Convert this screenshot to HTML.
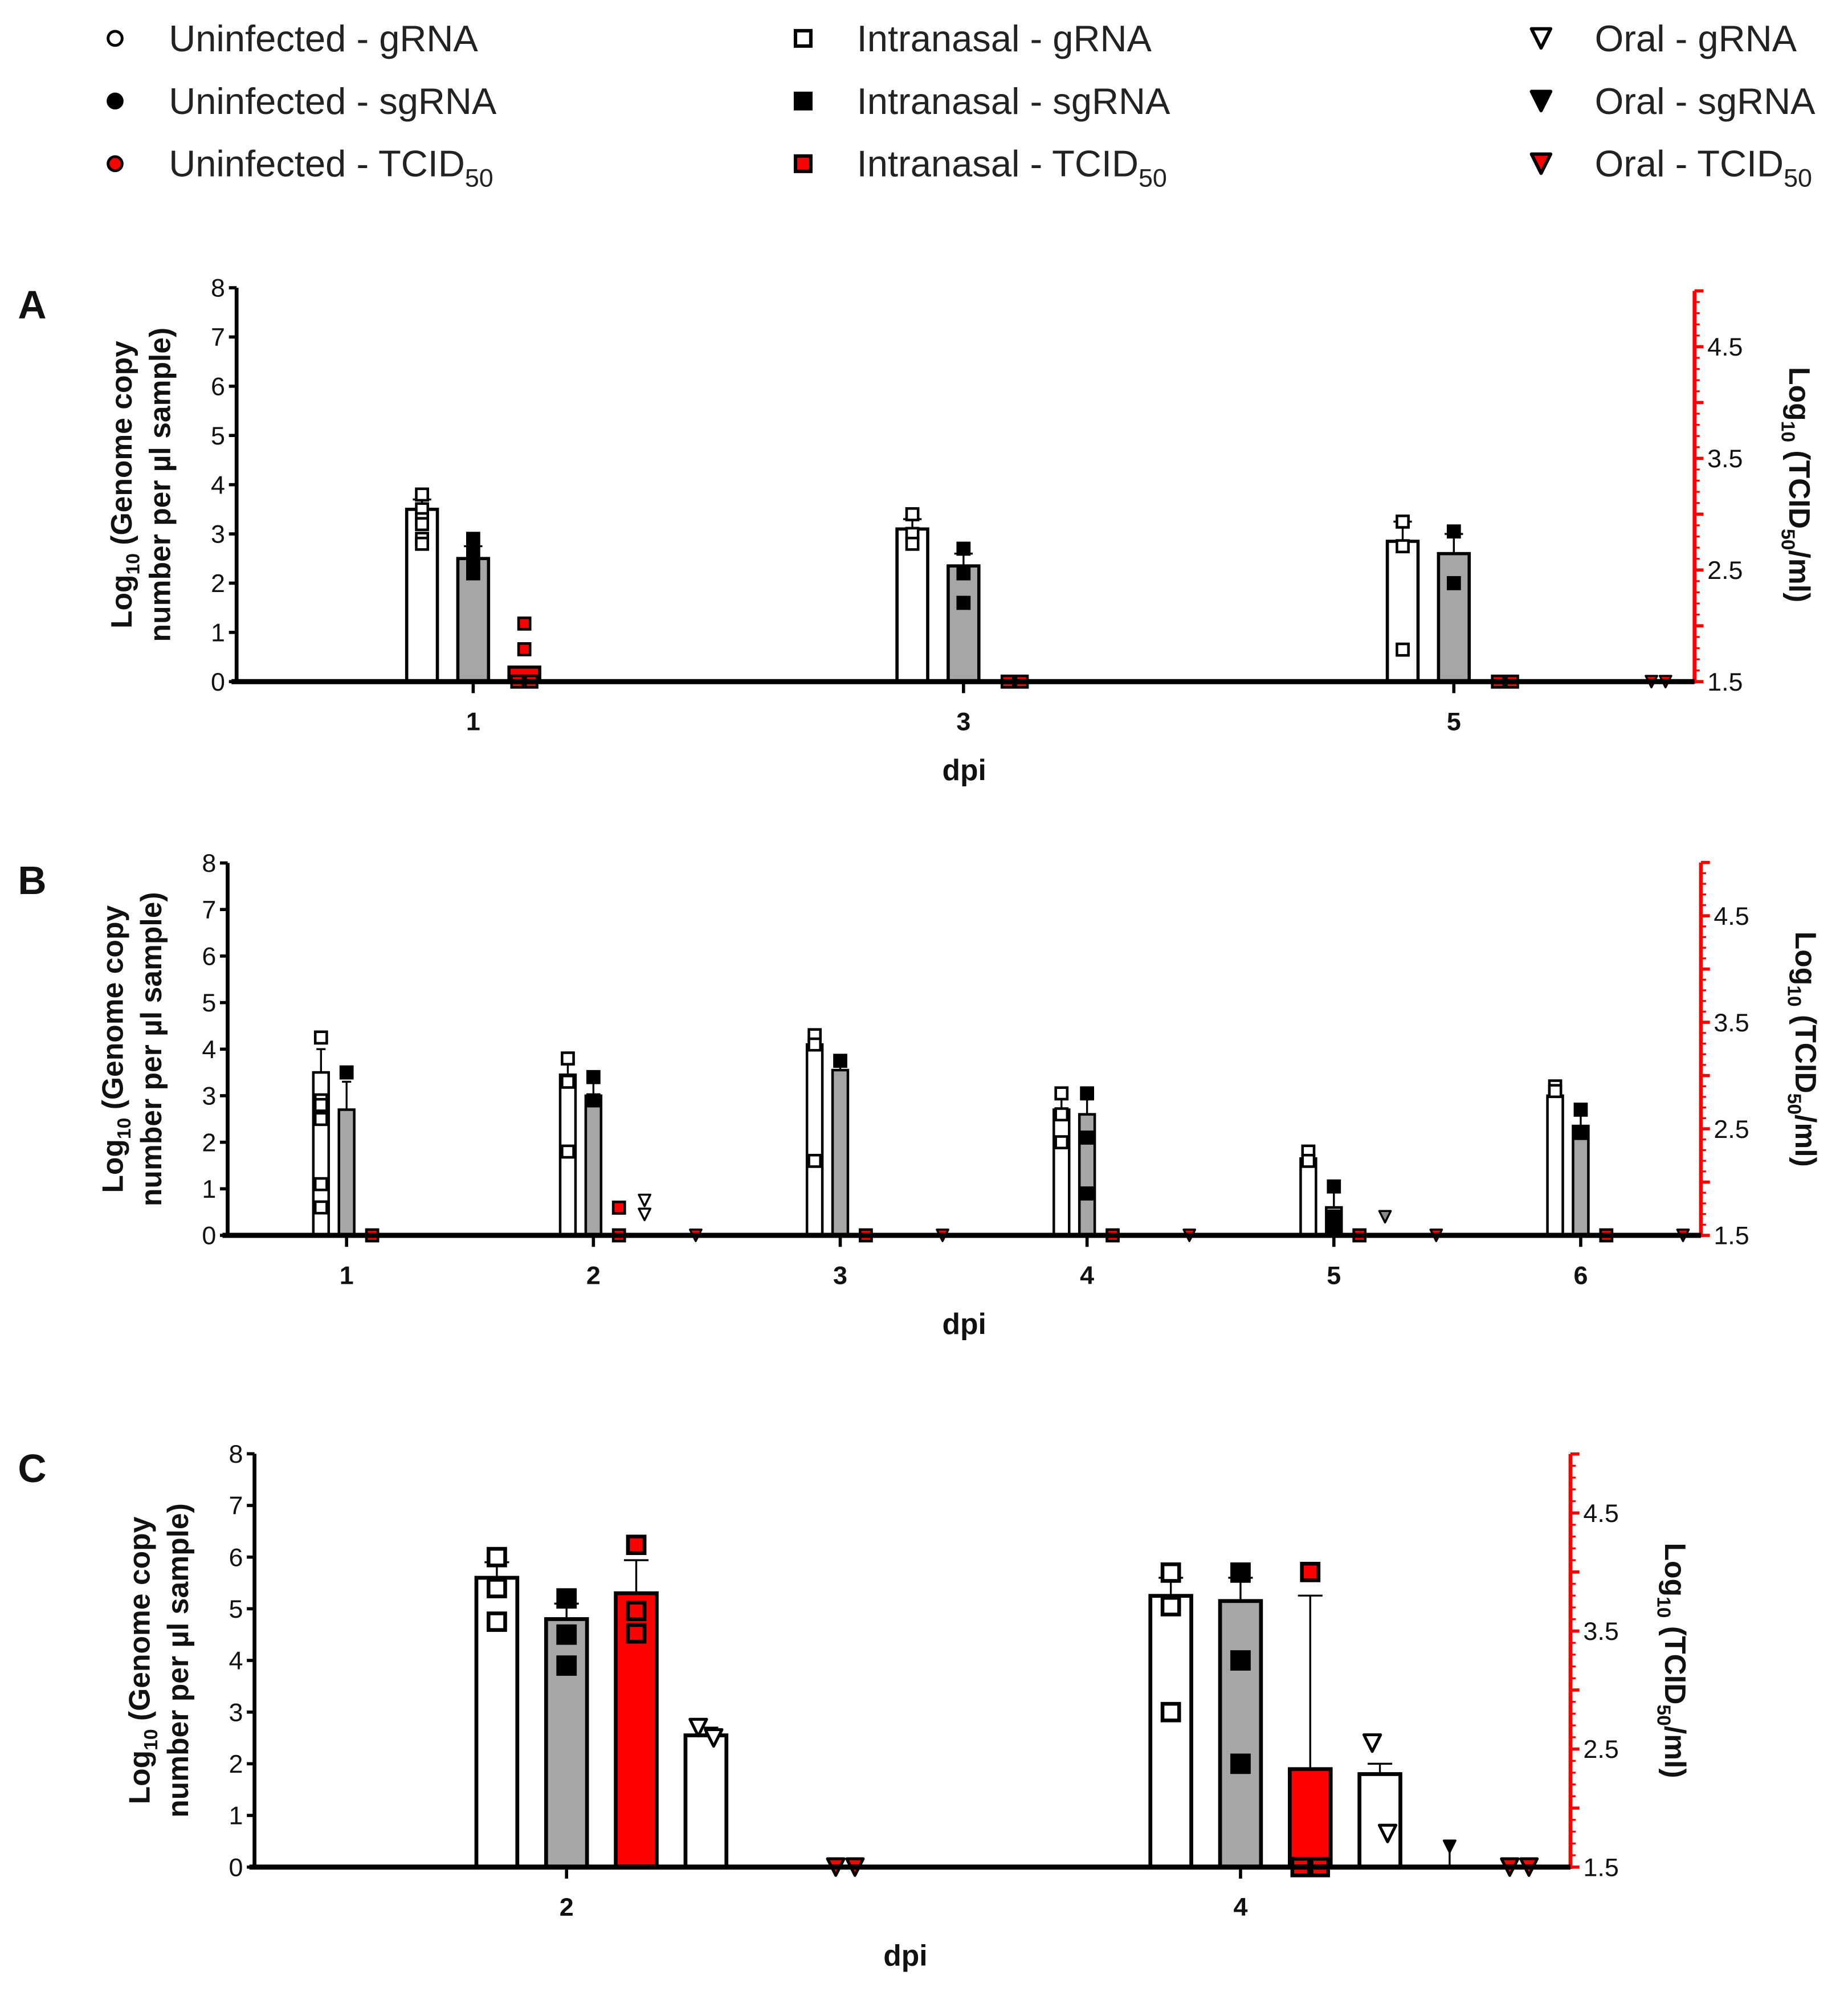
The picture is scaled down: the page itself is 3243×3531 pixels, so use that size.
<!DOCTYPE html>
<html><head><meta charset="utf-8">
<style>
html,body{margin:0;padding:0;background:#fff;}
svg{display:block;}
text{font-family:"Liberation Sans",Arial,sans-serif;}
</style></head>
<body>
<svg id="fig" xmlns="http://www.w3.org/2000/svg" width="3243" height="3531" viewBox="0 0 1445 1573.3">
<g id="legend"></g>
<g id="pA"></g>
<g id="pB"></g>
<g id="pC"></g>
</svg>
<script>
// ---------- DATA ----------
// Panel A
const daysA = [1, 3, 5];
const gMeanA = [3.5, 3.1, 2.85];
const gErrA = [3.7, 3.3, 3.25];
const gPtsA = [[3.8, 3.5, 3.3, 3.2, 2.9, 2.8], [3.4, 3.0, 2.8], [3.25, 2.75, 0.65]];
const sMeanA = [2.5, 2.35, 2.6];
const sErrA = [2.75, 2.6, 3.0];
const sPtsA = [[2.9, 2.6, 2.4, 2.2], [2.7, 2.2, 1.6], [3.05, 2.0]];
const tMeanA = [1.63, 1.5, 1.5];           // right axis units
const tPtsA = [[2.02, 1.79, 1.5, 1.5], [1.5, 1.5], [1.5, 1.5]];
const oTPtsA = [[], [], [1.5, 1.5]];
// Panel B
const daysB = [1, 2, 3, 4, 5, 6];
const gMeanB = [3.5, 3.45, 4.1, 2.7, 1.65, 3.0];
const gErrB = [4.0, 3.7, 4.3, 3.0, 1.85, 3.2];
const gPtsB = [[4.25, 2.9, 2.8, 2.5, 1.1, 0.6], [3.8, 3.3, 1.8], [4.3, 4.1, 1.6], [3.05, 2.6, 2.0], [1.8, 1.6], [3.2, 3.1]];
const sMeanB = [2.7, 3.0, 3.55, 2.6, 0.6, 2.35];
const sErrB = [3.3, 3.3, 3.7, 3.0, 0.95, 2.65];
const sPtsB = [[3.5], [3.4, 2.9], [3.75], [3.05, 2.1, 0.9], [1.05, 0.4, 0.2], [2.7, 2.2]];
const tPtsB = [[1.5], [1.5, 1.76], [1.5], [1.5], [1.5], [1.5]];
const oGPtsB = [[], [0.75, 0.45], [], [], [0.4], []];
const oTPtsB = [[], [1.5], [1.5], [1.5], [1.5], [1.5]];
// Panel C
const daysC = [2, 4];
const gMeanC = [5.6, 5.25];
const gErrC = [5.9, 5.6];
const gPtsC = [[6.0, 5.4, 4.75], [5.7, 5.05, 3.0]];
const sMeanC = [4.8, 5.15];
const sErrC = [5.1, 5.6];
const sPtsC = [[5.2, 4.5, 3.9], [5.7, 4.0, 2.0]];
const tMeanC = [3.82, 2.33];
const tErrC = [4.1, 3.8];
const tPtsC = [[4.23, 3.67, 3.48], [4.0, 1.5, 1.5]];
const oGMeanC = [2.55, 1.8];
const oGErrC = [2.7, 2.0];
const oGPtsC = [[2.7, 2.5], [2.4, 0.65]];
const oSPtsC = [[], [0.4]];
const oTPtsC = [[1.5, 1.5], [1.5, 1.5]];
const leftTicks = [0,1,2,3,4,5,6,7,8];
const rightTicks = [1.5, 2.5, 3.5, 4.5];

// ---------- HELPERS ----------
const NS = "http://www.w3.org/2000/svg";
function mk(parent, tag, attrs, txt) {
  const e = document.createElementNS(NS, tag);
  for (const k in attrs) e.setAttribute(k, attrs[k]);
  if (txt !== undefined) e.textContent = txt;
  parent.appendChild(e);
  return e;
}
function marker(g, type, x, y, r, name) {
  let e;
  if (type === 'sqOpen' || type === 'sqFill' || type === 'sqRed') {
    e = mk(g, 'rect', {x: x - r, y: y - r, width: 2 * r, height: 2 * r,
      fill: type === 'sqOpen' ? '#fff' : (type === 'sqRed' ? '#f00' : '#000'),
      stroke: '#000', 'stroke-width': r * 0.45});
  } else {
    const fill = type === 'triOpen' ? '#fff' : (type === 'triRed' ? '#f00' : (type === 'triGray' ? '#888' : '#000'));
    e = mk(g, 'polygon', {points: `${x - r},${y - r} ${x + r},${y - r} ${x},${y + r}`,
      fill: fill, stroke: '#000', 'stroke-width': r * 0.35, 'stroke-linejoin': 'round'});
  }
  
  
}

function panel(cfg) {
  const g = document.getElementById(cfg.id);
  const yL = v => cfg.y0 - v * cfg.uL;
  const yR = v => cfg.y0 - (v - 1.5) * cfg.uR;
  const xD = d => cfg.x0d + (d - cfg.d0) * cfg.dPx;
  const lab = mk(g, 'text', {x: 14, y: cfg.top + 27, 'font-size': 31, 'font-weight': 'bold', fill: '#111'}, cfg.label);
  
  
  const la = mk(g, 'line', {x1: cfg.xL, y1: yL(8), x2: cfg.xL, y2: cfg.y0 + 1.5, stroke: '#000', 'stroke-width': 3});
  
  
  leftTicks.forEach(t => {
    mk(g, 'line', {x1: cfg.xL - 6, y1: yL(t), x2: cfg.xL, y2: yL(t), stroke: '#000', 'stroke-width': 2.5});
    const tl = mk(g, 'text', {x: cfg.xL - 9, y: yL(t) + 7, 'font-size': 20, 'text-anchor': 'end', fill: '#111'}, String(t));
    
    
  });
  const ra = mk(g, 'line', {x1: cfg.xR, y1: yR(5.0), x2: cfg.xR, y2: cfg.y0 + 1.5, stroke: '#f00', 'stroke-width': 3});
  
  
  for (let i = 0; i <= 35; i++) {
    const v = 1.5 + i * 0.1;
    const major = Math.abs((v * 10) % 5) < 0.01;
    mk(g, 'line', {x1: cfg.xR, y1: yR(v), x2: cfg.xR + (major ? 7 : 4), y2: yR(v), stroke: '#f00', 'stroke-width': major ? 2.5 : 1.5});
  }
  rightTicks.forEach(t => {
    const tl = mk(g, 'text', {x: cfg.xR + 10, y: yR(t) + 7, 'font-size': 20, fill: '#111'}, t.toFixed(1));
    
    
  });
  const cy = (yL(8) + cfg.y0) / 2;
  const t1 = mk(g, 'text', {x: 0, y: 0, 'font-size': 23, 'font-weight': 'bold', 'text-anchor': 'middle', fill: '#111',
    transform: `translate(${cfg.xL - 82},${cy}) rotate(-90)`});
  t1.innerHTML = 'Log<tspan font-size="15" dy="6">10</tspan><tspan dy="-6"> (Genome copy</tspan>';
  
  
  const t2 = mk(g, 'text', {x: 0, y: 0, 'font-size': 23, 'font-weight': 'bold', 'text-anchor': 'middle', fill: '#111',
    transform: `translate(${cfg.xL - 52},${cy}) rotate(-90)`}, 'number per µl sample)');
  
  
  const t3 = mk(g, 'text', {x: 0, y: 0, 'font-size': 23, 'font-weight': 'bold', 'text-anchor': 'middle', fill: '#111',
    transform: `translate(${cfg.xR + 74},${cy}) rotate(90)`});
  t3.innerHTML = 'Log<tspan font-size="15" dy="6">10</tspan><tspan dy="-6"> (TCID</tspan><tspan font-size="15" dy="6">50</tspan><tspan dy="-6">/ml)</tspan>';
  
  
  const bw = cfg.bw, r = cfg.mr;
  function bar(x, top, fill, name, baseY) {
    const b = mk(g, 'rect', {x: x - bw / 2, y: top, width: bw, height: Math.max(0, baseY - top), fill: fill, stroke: '#000', 'stroke-width': cfg.bs});
    
    
  }
  function err(x, from, to, name) {
    const e = mk(g, 'path', {d: `M${x},${from} V${to} M${x - bw * 0.3},${to} H${x + bw * 0.3}`, stroke: '#000', 'stroke-width': 1.5, fill: 'none'});
    
    
  }
  function pts(x, vals, conv, type, name, jit) {
    const n = vals.length;
    vals.forEach((v, i) => {
      const dx = (n > 1 && jit) ? (i % 2 === 0 ? -1 : 1) * jit : 0;
      marker(g, type, x + dx, conv(v), r, name);
    });
  }
  cfg.days.forEach((d, i) => {
    const cx = xD(d);
    const sx = k => cx + (k - 1) * cfg.slot;
    if (cfg.gMean) { err(sx(0), yL(cfg.gMean[i]), yL(cfg.gErr[i]), 'grna-error-bar'); bar(sx(0), yL(cfg.gMean[i]), '#fff', 'intranasal-grna-bar-day' + d, cfg.y0); pts(sx(0), cfg.gPts[i], yL, 'sqOpen', 'intranasal-grna-point', 0); }
    if (cfg.sMean) { err(sx(1), yL(cfg.sMean[i]), yL(cfg.sErr[i]), 'sgrna-error-bar'); bar(sx(1), yL(cfg.sMean[i]), '#a6a6a6', 'intranasal-sgrna-bar-day' + d, cfg.y0); pts(sx(1), cfg.sPts[i], yL, 'sqFill', 'intranasal-sgrna-point', 0); }
    if (cfg.tMean) {
      if (cfg.tErr) err(sx(2), yR(cfg.tMean[i]), yR(cfg.tErr[i]), 'tcid-error-bar');
      bar(sx(2), yR(cfg.tMean[i]), cfg.tFill, 'intranasal-tcid-bar-day' + d, cfg.y0);
    }
    if (cfg.tPts) {
      const hi = cfg.tPts[i].filter(v => v > 1.5), lo = cfg.tPts[i].filter(v => v <= 1.5);
      pts(sx(2), hi, yR, 'sqRed', 'intranasal-tcid-point', 0);
      pts(sx(2), lo, yR, 'sqRed', 'intranasal-tcid-point', r + 1);
    }
    if (cfg.oGMean) { err(sx(3), yL(cfg.oGMean[i]), yL(cfg.oGErr[i]), 'oral-grna-error-bar'); bar(sx(3), yL(cfg.oGMean[i]), '#fff', 'oral-grna-bar-day' + d, cfg.y0); }
    if (cfg.oGPts) pts(sx(3), cfg.oGPts[i], yL, cfg.oGType ? cfg.oGType(i) : 'triOpen', 'oral-grna-point', cfg.triJit);
    if (cfg.oSPts) cfg.oSPts[i].forEach(v => { mk(g, 'line', {x1: sx(4), y1: yL(v), x2: sx(4), y2: cfg.y0, stroke: '#000', 'stroke-width': 1.5}); marker(g, 'triFill', sx(4), yL(v), r * 0.7, 'oral-sgrna-point'); });
    if (cfg.oTPts) pts(sx(5), cfg.oTPts[i], yR, 'triRed', 'oral-tcid-point', r + 1);
  });
  const xa = mk(g, 'line', {x1: cfg.xL - 4, y1: cfg.y0, x2: cfg.xR, y2: cfg.y0, stroke: '#000', 'stroke-width': 4});
  
  
  cfg.days.forEach(d => {
    mk(g, 'line', {x1: xD(d), y1: cfg.y0, x2: xD(d), y2: cfg.y0 + 9, stroke: '#000', 'stroke-width': 2.5});
    const tl = mk(g, 'text', {x: xD(d), y: cfg.y0 + 38, 'font-size': 20, 'font-weight': 'bold', 'text-anchor': 'middle', fill: '#111'}, String(d));
    
    
  });
  const xt = mk(g, 'text', {x: cfg.xTitle, y: cfg.y0 + 77, 'font-size': 23, 'font-weight': 'bold', 'text-anchor': 'middle', fill: '#111'}, 'dpi');
  
  
}

panel({id: 'pA', label: 'A', top: 222, xL: 185, xR: 1325, y0: 533, uL: 38.5, uR: 87.3,
  d0: 1, x0d: 370, dPx: 191.7, slot: 40, bw: 24, bs: 2.5, mr: 4.5, triJit: 5, xTitle: 754,
  days: daysA, gMean: gMeanA, gErr: gErrA, gPts: gPtsA, sMean: sMeanA, sErr: sErrA, sPts: sPtsA,
  tMean: tMeanA, tFill: '#f00', tPts: tPtsA, oTPts: oTPtsA});
panel({id: 'pB', label: 'B', top: 672, xL: 178, xR: 1330, y0: 966, uL: 36.4, uR: 83.3,
  d0: 1, x0d: 271, dPx: 193, slot: 20, bw: 12, bs: 2, mr: 4.5, triJit: 0, xTitle: 754,
  days: daysB, gMean: gMeanB, gErr: gErrB, gPts: gPtsB, sMean: sMeanB, sErr: sErrB, sPts: sPtsB,
  tPts: tPtsB, oGPts: oGPtsB, oGType: i => i === 4 ? 'triGray' : 'triOpen', oTPts: oTPtsB});
panel({id: 'pC', label: 'C', top: 1132, xL: 199, xR: 1228, y0: 1460, uL: 40.4, uR: 92.3,
  d0: 2, x0d: 443, dPx: 263.5, slot: 54.5, bw: 32, bs: 3, mr: 6.5, triJit: 6, xTitle: 708,
  days: daysC, gMean: gMeanC, gErr: gErrC, gPts: gPtsC, sMean: sMeanC, sErr: sErrC, sPts: sPtsC,
  tMean: tMeanC, tErr: tErrC, tFill: '#f00', tPts: tPtsC, oGMean: oGMeanC, oGErr: oGErrC, oGPts: oGPtsC,
  oSPts: oSPtsC, oTPts: oTPtsC});

// ---------- LEGEND ----------
const legCols = [90, 628, 1205];
const legRows = [30, 79, 128];
const legGroups = ['Uninfected', 'Intranasal', 'Oral'];
const legKinds = ['gRNA', 'sgRNA', 'TCID'];
const lg = document.getElementById('legend');
legGroups.forEach((grp, c) => {
  legKinds.forEach((k, rI) => {
    const x = legCols[c], y = legRows[rI];
    const it = mk(lg, 'g', {});
    
    
    if (c === 0) {
      mk(it, 'circle', {cx: x, cy: y, r: 5.5, fill: rI === 0 ? '#fff' : (rI === 1 ? '#000' : '#f00'), stroke: '#000', 'stroke-width': 2.2});
    } else if (c === 1) {
      marker(it, rI === 0 ? 'sqOpen' : (rI === 1 ? 'sqFill' : 'sqRed'), x, y, 6, 'legend-marker');
    } else {
      marker(it, rI === 0 ? 'triOpen' : (rI === 1 ? 'triFill' : 'triRed'), x, y, 7.5, 'legend-marker');
    }
    const t = mk(it, 'text', {x: x + 42, y: y + 10, 'font-size': 29, fill: '#222'});
    if (k === 'TCID') t.innerHTML = grp + ' - TCID<tspan font-size="20" dy="8">50</tspan>';
    else t.textContent = grp + ' - ' + k;
  });
});
</script>
</body></html>
